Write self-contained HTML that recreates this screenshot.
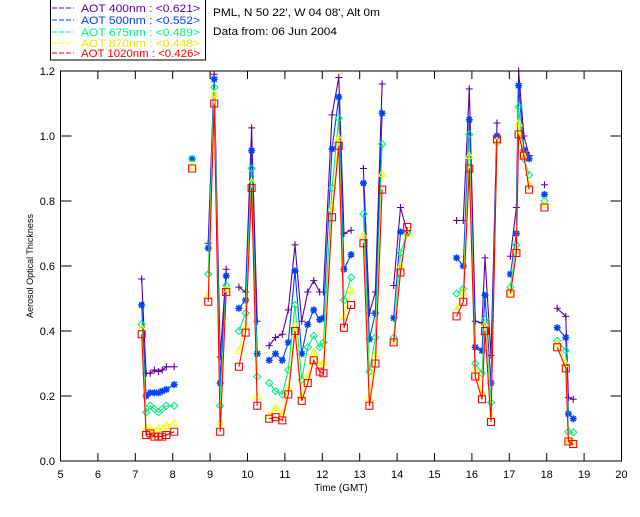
<!DOCTYPE html>
<html><head><meta charset="utf-8"><style>
body{margin:0;background:#fff;width:640px;height:512px;overflow:hidden}
svg text{font-family:"Liberation Sans","DejaVu Sans",sans-serif;font-size:11px}
</style></head><body>
<svg id="chart" width="640" height="512" viewBox="0 0 640 512" xmlns="http://www.w3.org/2000/svg">
<rect x="50.5" y="-1" width="155" height="61" fill="#fff" stroke="#000"/>
<g>
<g><line x1="52" y1="8" x2="74" y2="8" stroke="#5a00a0" stroke-dasharray="5,2"/><text x="81" y="12" fill="#5a00a0" textLength="119" lengthAdjust="spacingAndGlyphs">AOT  400nm : &lt;0.621&gt;</text></g>
<g><line x1="52" y1="20" x2="74" y2="20" stroke="#0040ff" stroke-dasharray="5,2"/><text x="81" y="24" fill="#0040ff" textLength="119" lengthAdjust="spacingAndGlyphs">AOT  500nm : &lt;0.552&gt;</text></g>
<g><line x1="52" y1="32" x2="74" y2="32" stroke="#00f080" stroke-dasharray="5,2"/><text x="81" y="36" fill="#00f080" textLength="119" lengthAdjust="spacingAndGlyphs">AOT  675nm : &lt;0.489&gt;</text></g>
<g><line x1="52" y1="43" x2="74" y2="43" stroke="#ffff00" stroke-dasharray="5,2"/><text x="81" y="47" fill="#e8e800" textLength="119" lengthAdjust="spacingAndGlyphs">AOT  870nm : &lt;0.448&gt;</text></g>
<g><line x1="52" y1="53" x2="74" y2="53" stroke="#ff0000" stroke-dasharray="5,2"/><text x="81" y="57" fill="#ff0000" textLength="119" lengthAdjust="spacingAndGlyphs">AOT 1020nm : &lt;0.426&gt;</text></g>
</g>
<text x="213" y="16" fill="#000" textLength="167" lengthAdjust="spacingAndGlyphs">PML, N 50 22', W 04 08', Alt 0m</text>
<text x="213" y="35" fill="#000" textLength="124" lengthAdjust="spacingAndGlyphs">Data from: 06 Jun 2004</text>
<text transform="translate(33,266) rotate(-90)" text-anchor="middle" style="font-size:9px">Aerosol Optical Thickness</text>
<text x="341" y="491" text-anchor="middle" style="font-size:10px">Time (GMT)</text>
<g id="axes"></g>
<g id="marks"></g>
<rect x="60.5" y="71" width="561" height="390" fill="none" stroke="#000" stroke-width="1"/>
</svg>
<script>
const times=[7.17,7.29,7.40,7.51,7.62,7.72,7.83,8.04,8.52,8.95,9.11,9.27,9.43,9.77,9.95,10.11,10.26,10.58,10.75,10.93,11.09,11.27,11.45,11.61,11.77,11.93,12.03,12.26,12.44,12.58,12.77,13.10,13.26,13.42,13.60,13.91,14.09,14.27,15.59,15.77,15.93,16.09,16.27,16.35,16.51,16.67,17.03,17.19,17.25,17.39,17.53,17.94,18.28,18.51,18.58,18.71];
const aot400=[0.56,0.27,0.27,0.28,0.275,0.28,0.29,0.29,0.93,0.67,1.19,0.32,0.59,0.535,0.52,1.025,0.43,0.355,0.38,0.39,0.465,0.665,0.43,0.52,0.555,0.52,0.52,1.065,1.18,0.70,0.71,0.90,0.455,0.52,1.16,0.54,0.78,0.705,0.74,0.74,1.145,0.43,0.425,0.625,0.325,1.04,0.63,0.78,1.21,1.00,0.94,0.85,0.47,0.445,0.195,0.19];
const aot500=[0.48,0.20,0.21,0.21,0.21,0.215,0.22,0.235,0.93,0.655,1.175,0.24,0.57,0.47,0.495,0.955,0.33,0.31,0.33,0.31,0.365,0.585,0.33,0.42,0.465,0.435,0.44,0.96,1.12,0.59,0.635,0.855,0.375,0.455,1.07,0.44,0.705,0.70,0.625,0.60,1.05,0.35,0.34,0.51,0.24,1.00,0.575,0.70,1.155,0.957,0.93,0.82,0.41,0.38,0.145,0.13];
const aot675=[0.42,0.15,0.17,0.16,0.15,0.16,0.17,0.17,0.93,0.575,1.15,0.17,0.54,0.40,0.455,0.90,0.26,0.24,0.215,0.205,0.28,0.48,0.25,0.35,0.385,0.35,0.365,0.84,1.055,0.495,0.565,0.76,0.275,0.38,0.975,0.38,0.64,0.70,0.515,0.53,1.005,0.30,0.27,0.435,0.18,0.98,0.535,0.665,1.09,0.93,0.88,0.80,0.37,0.34,0.09,0.088];
const aot870=[0.41,0.10,0.10,0.09,0.10,0.10,0.11,0.117,0.91,0.51,1.13,0.12,0.53,0.34,0.415,0.86,0.20,0.14,0.165,0.145,0.225,0.42,0.20,0.26,0.335,0.295,0.305,0.78,0.995,0.445,0.525,0.695,0.195,0.33,0.885,0.37,0.60,0.70,0.465,0.52,0.94,0.28,0.21,0.42,0.14,0.985,0.52,0.65,1.04,0.94,0.85,0.79,0.36,0.30,0.065,0.06];
const aot1020=[0.39,0.08,0.085,0.075,0.075,0.075,0.08,0.09,0.90,0.49,1.10,0.09,0.52,0.29,0.395,0.84,0.17,0.13,0.135,0.125,0.205,0.40,0.185,0.24,0.31,0.275,0.27,0.75,0.97,0.41,0.48,0.67,0.17,0.30,0.835,0.365,0.58,0.72,0.445,0.49,0.90,0.26,0.19,0.40,0.12,0.99,0.515,0.64,1.005,0.94,0.835,0.78,0.35,0.285,0.06,0.052];
const xTicks=[5,6,7,8,9,10,11,12,13,14,15,16,17,18,19,20];
const yTicks=[0.0,0.2,0.4,0.6,0.8,1.0,1.2];
const gapHours=0.28;

const NS="http://www.w3.org/2000/svg";
const X0=60.5,X1=621.5,Y0=461,Y1=71;
function xs(t){return X0+(t-5)/15*(X1-X0);}
function ys(v){return Y0-Math.min(v,1.2)/1.2*(Y0-Y1);}
function mk(tag,at,parent){const e=document.createElementNS(NS,tag);for(const k in at)e.setAttribute(k,at[k]);parent.appendChild(e);return e;}
const axes=document.getElementById('axes'),marks=document.getElementById('marks');
xTicks.forEach(t=>{
  const x=xs(t);
  if(t>5&&t<20){
    const a=mk('line',{x1:x,y1:Y0,x2:x,y2:Y0-8,stroke:'#000'},axes);
    
    
    const b=mk('line',{x1:x,y1:Y1,x2:x,y2:Y1+8,stroke:'#000'},axes);
    
    
  }
  const tx=mk('text',{x:x,y:478,'text-anchor':'middle',fill:'#000'},axes);tx.textContent=t;
  
  
});
yTicks.forEach(v=>{
  const y=ys(v);
  if(v>0&&v<1.2){
    const a=mk('line',{x1:X0,y1:y,x2:X0+11,y2:y,stroke:'#000'},axes);
    
    
    const b=mk('line',{x1:X1,y1:y,x2:X1-11,y2:y,stroke:'#000'},axes);
    
    
  }
  const tx=mk('text',{x:55,y:y+4,'text-anchor':'end',fill:'#000'},axes);tx.textContent=v.toFixed(1);
  
  
});
const series=[
 {name:'aot-400',vals:aot400,col:'#5a00a0',m:'plus'},
 {name:'aot-500',vals:aot500,col:'#0040ff',m:'star'},
 {name:'aot-675',vals:aot675,col:'#00f080',m:'diamond'},
 {name:'aot-870',vals:aot870,col:'#ffff00',m:'tri'},
 {name:'aot-1020',vals:aot1020,col:'#ff0000',m:'square'}];
series.forEach(s=>{
  const g=mk('g',{},marks);
  
  
  let d='';
  times.forEach((t,i)=>{
    const brk=i===0||t-times[i-1]>gapHours;
    d+=(brk?'M':'L')+xs(t).toFixed(1)+','+ys(s.vals[i]).toFixed(1);
  });
  const p=mk('path',{d:d,fill:'none',stroke:s.col,'stroke-width':1.1},g);
  
  
  times.forEach((t,i)=>{
    const x=xs(t),y=ys(s.vals[i]);let pd='',r=3.5;
    if(s.m==='plus')pd=`M${x-r},${y}H${x+r}M${x},${y-r}V${y+r}`;
    else if(s.m==='star')pd=`M${x-r},${y}H${x+r}M${x},${y-r}V${y+r}M${x-2.6},${y-2.6}L${x+2.6},${y+2.6}M${x-2.6},${y+2.6}L${x+2.6},${y-2.6}`;
    else if(s.m==='diamond')pd=`M${x},${y-r}L${x+r},${y}L${x},${y+r}L${x-r},${y}Z`;
    else if(s.m==='tri')pd=`M${x},${y-r}L${x+r},${y+3}L${x-r},${y+3}Z`;
    else pd=`M${x-r},${y-r}H${x+r}V${y+r}H${x-r}Z`;
    const m=mk('path',{d:pd,fill:'none',stroke:s.col,'stroke-width':s.m==='star'?1.6:1.1},g);
    
    
  });
});
</script>
</body></html>
